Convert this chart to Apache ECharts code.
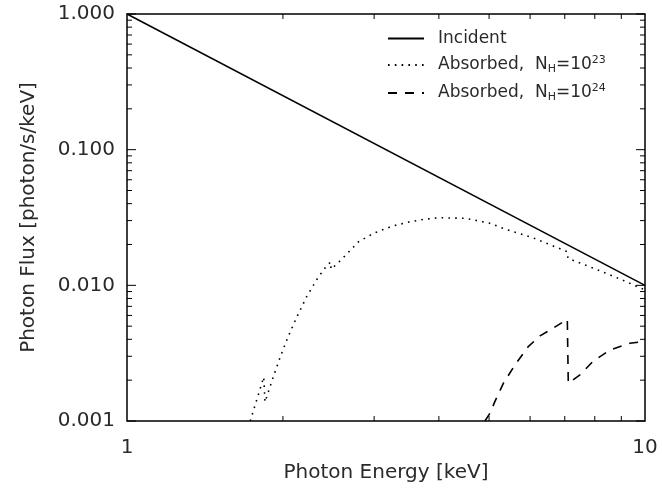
<!DOCTYPE html>
<html>
<head>
<meta charset="utf-8">
<script src="https://cdn.jsdelivr.net/npm/echarts@6/dist/echarts.min.js"></script>
<style>
  html, body { margin: 0; padding: 0; background: #fff; }
  #main { width: 662px; height: 496px; }
</style>
</head>
<body>
<div id="main"></div>
<script>
// 数据
var energyIncident = [1, 10];
var fluxIncident = [1.0, 0.01];

var energy23 = [1.73, 1.766, 1.801, 1.836, 1.847, 1.911, 1.974, 2.046, 2.129, 2.223, 2.337, 2.43, 2.473, 2.476, 2.555, 2.801, 3.0, 3.25, 3.5, 3.75, 4.0, 4.5, 5.0, 5.37, 6.08, 7.08, 7.1, 8.04, 9.11, 9.78, 10];
var flux23 = [0.001, 0.0013, 0.00165, 0.00211, 0.00138, 0.00205, 0.00293, 0.00417, 0.00588, 0.00826, 0.0114, 0.01396, 0.01486, 0.01315, 0.01462, 0.021, 0.0243, 0.0273, 0.0293, 0.0307, 0.0315, 0.0312, 0.0288, 0.026, 0.0224, 0.0177, 0.0158, 0.01315, 0.01083, 0.00957, 0.0093];

var energy24 = [4.91, 5.02, 5.13, 5.33, 5.61, 5.95, 6.27, 6.56, 7.08, 7.11, 7.49, 7.95, 8.56, 9.35, 9.85, 10];
var flux24 = [0.001, 0.00114, 0.00139, 0.0019, 0.00259, 0.00353, 0.00424, 0.00469, 0.00562, 0.0019, 0.00219, 0.00277, 0.00334, 0.00374, 0.00384, 0.0039];

var seriesNames = ['Incident', 'Absorbed, NH=1e23', 'Absorbed, NH=1e24'];
var legendLabels = [
    '{a|Incident}',
    '{a|Absorbed,  N}{sub|H}{a|=10}{sup|23}',
    '{a|Absorbed,  N}{sub|H}{a|=10}{sup|24}'
];

var xMinorTicks = [2, 3, 4, 5, 6, 7, 8, 9];
var yMajorTicks = [0.001, 0.01, 0.1, 1];
var yMinorTicks = [0.002, 0.003, 0.004, 0.005, 0.006, 0.007, 0.008, 0.009,
                   0.02, 0.03, 0.04, 0.05, 0.06, 0.07, 0.08, 0.09,
                   0.2, 0.3, 0.4, 0.5, 0.6, 0.7, 0.8, 0.9];

var xMin = 1, xMax = 10, yMin = 0.001, yMax = 1;
var font = 'DejaVu Sans';
var textColor = '#2a2a2a';

function pairs(xs, ys) {
    return xs.map(function (x, i) { return [x, ys[i]]; });
}

// 刻度（内向，四边）
function xTickItem(params, api) {
    var v = api.value(0);
    var b = api.coord([v, yMin]);
    var t = api.coord([v, yMax]);
    var len = 5;
    var st = { stroke: '#000', lineWidth: 1 };
    return {
        type: 'group',
        children: [
            { type: 'line', shape: { x1: b[0], y1: b[1], x2: b[0], y2: b[1] - len }, style: st },
            { type: 'line', shape: { x1: t[0], y1: t[1], x2: t[0], y2: t[1] + len }, style: st }
        ]
    };
}
function yTickItem(params, api) {
    var v = api.value(1);
    var major = api.value(2) === 1;
    var l = api.coord([xMin, v]);
    var r = api.coord([xMax, v]);
    var len = major ? 9 : 5;
    var st = { stroke: '#000', lineWidth: 1 };
    return {
        type: 'group',
        children: [
            { type: 'line', shape: { x1: l[0], y1: l[1], x2: l[0] + len, y2: l[1] }, style: st },
            { type: 'line', shape: { x1: r[0], y1: r[1], x2: r[0] - len, y2: r[1] }, style: st }
        ]
    };
}

var yTickData = yMajorTicks.map(function (v) { return [xMin, v, 1]; })
    .concat(yMinorTicks.map(function (v) { return [xMin, v, 0]; }));

var myChart = echarts.init(document.getElementById('main'));
var option = {
    animation: false,
    backgroundColor: '#fff',
    textStyle: { fontFamily: font, color: textColor },
    grid: {
        left: 127, right: 17, top: 14, bottom: 75,
        show: true,
        borderColor: '#000',
        borderWidth: 1.5,
        backgroundColor: 'transparent'
    },
    legend: {
        data: seriesNames,
        orient: 'vertical',
        left: 387,
        top: 30,
        padding: 0,
        itemWidth: 36,
        itemHeight: 14,
        itemGap: 8,
        selectedMode: false,
        itemStyle: { color: 'transparent', borderColor: 'transparent', borderWidth: 0 },
        formatter: function (name) {
            return legendLabels[seriesNames.indexOf(name)];
        },
        textStyle: {
            padding: [0, 0, 0, 9],
            rich: {
                a: { fontFamily: font, fontSize: 17, color: textColor },
                sub: { fontFamily: font, fontSize: 11, color: textColor, padding: [9, 0, 0, 0] },
                sup: { fontFamily: font, fontSize: 11, color: textColor, padding: [0, 0, 9, 0] }
            }
        }
    },
    xAxis: {
        type: 'log',
        logBase: 10,
        min: xMin,
        max: xMax,
        name: 'Photon Energy [keV]',
        nameLocation: 'middle',
        nameGap: 40,
        nameTextStyle: { fontFamily: font, fontSize: 20, color: textColor },
        axisLine: { show: false },
        axisTick: { show: false },
        splitLine: { show: false },
        axisLabel: {
            fontFamily: font, fontSize: 20, color: textColor, margin: 17,
            formatter: function (v) { return String(Math.round(v)); }
        }
    },
    yAxis: {
        type: 'log',
        logBase: 10,
        min: yMin,
        max: yMax,
        name: 'Photon Flux [photon/s/keV]',
        nameLocation: 'middle',
        nameGap: 88,
        nameTextStyle: { fontFamily: font, fontSize: 20, color: textColor },
        axisLine: { show: false },
        axisTick: { show: false },
        splitLine: { show: false },
        axisLabel: {
            fontFamily: font, fontSize: 20, color: textColor, margin: 12,
            formatter: function (v) { return Number(v).toFixed(3); }
        }
    },
    series: [
        {
            name: seriesNames[0],
            type: 'line',
            data: pairs(energyIncident, fluxIncident),
            showSymbol: false,
            symbol: 'none',
            lineStyle: { color: '#000', width: 1.5, type: 'solid' },
            itemStyle: { color: '#000' }
        },
        {
            name: seriesNames[1],
            type: 'line',
            data: pairs(energy23, flux23),
            showSymbol: false,
            symbol: 'none',
            lineStyle: { color: '#000', width: 1.6, type: [1.6, 5.2] },
            itemStyle: { color: '#000' }
        },
        {
            name: seriesNames[2],
            type: 'line',
            data: pairs(energy24, flux24),
            showSymbol: false,
            symbol: 'none',
            lineStyle: { color: '#000', width: 1.6, type: [9, 8] },
            itemStyle: { color: '#000' }
        },
        {
            type: 'custom',
            name: 'xticks',
            renderItem: xTickItem,
            data: xMinorTicks.map(function (v) { return [v, yMin]; }),
            clip: false,
            silent: true
        },
        {
            type: 'custom',
            name: 'yticks',
            renderItem: yTickItem,
            data: yTickData,
            clip: false,
            silent: true
        }
    ]
};
myChart.setOption(option);
</script>
</body>
</html>
